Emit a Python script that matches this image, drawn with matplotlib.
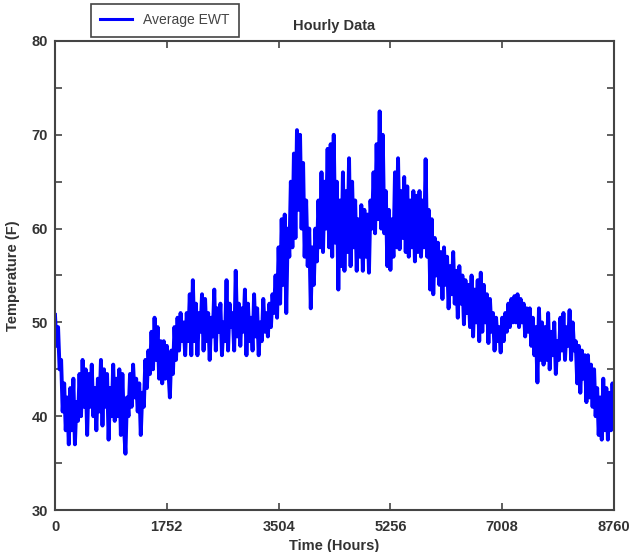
import numpy as np
import matplotlib.pyplot as plt

plt.rcParams['font.family'] = ['Liberation Sans', 'DejaVu Sans']

# daily readings of the hourly EWT trace (one value every 24 h)
ewt = [
    50.8, 47.5, 49.5, 45, 46, 40.5, 43.5, 38.5, 42, 37,
    43, 38.5, 44, 37, 41.5, 39.5, 44.5, 40, 46, 41,
    45, 38, 44.5, 41, 45.5, 40, 43, 38.5, 44, 40.5,
    46, 39, 45, 41, 44.5, 37.5, 43, 40, 45.5, 39.5,
    44, 40, 45, 38, 44.5, 39, 36, 42, 40, 44.5,
    41, 45.5, 42, 44, 40.5, 43.5, 38, 42.5, 41, 46,
    43, 47, 44.5, 49, 45, 50.5, 46, 49.5, 44, 48,
    43.5, 48, 44, 47.5, 45, 42, 47, 44.5, 49.5, 46,
    50.5, 47, 51, 48, 50, 46.5, 51, 48, 53, 46.5,
    54.5, 48, 52, 46.5, 51, 49, 53, 47, 52.5, 48,
    51, 46, 50.5, 48.5, 53.5, 47, 51.5, 49, 52, 46.5,
    50, 48, 54.5, 47, 52, 49.5, 51, 47, 55.5, 48.5,
    52, 47.5, 51.5, 49, 53.5, 46.5, 52, 48, 50.5, 47,
    53, 48.5, 51.5, 46.5, 50, 48, 52.5, 49, 51, 48.5,
    52, 49.5, 53, 51, 55, 50.5, 58, 52, 61, 54,
    61.5, 51, 60, 57, 65, 58, 68, 59, 70.5, 62,
    70, 60, 67, 57, 63, 56, 60, 51.5, 58, 54,
    60, 56.5, 63, 58, 66, 57.5, 65, 60, 68.5, 58,
    69, 57, 70, 58.5, 65, 53.5, 63, 56, 66, 55.5,
    64, 57.5, 67.5, 56, 65, 58, 63, 55.5, 61, 57,
    62.5, 55.5, 62, 57, 61.5, 55.3, 63, 60, 66, 59.5,
    69, 61, 72.5, 60, 70, 59.5, 64, 56, 62, 55.6,
    61, 57, 66, 58, 67.5, 57.8, 64, 59, 65.5, 57.5,
    64.5, 57, 63, 58, 64, 56.5, 63.5, 57.5, 64, 57,
    63, 58, 67.4, 57, 62, 53.5, 61, 53, 59, 55,
    58.5, 54, 57.5, 52.5, 58, 54, 57, 51.5, 56, 53,
    57.5, 52, 55.5, 50.5, 56, 52, 55, 49.8, 54.5, 51,
    54, 49.5, 55, 48.5, 53.5, 50, 54.5, 48, 55.3, 49,
    54, 50, 53, 47.8, 52.5, 49, 51, 47, 50.5, 48,
    49.5, 46.8, 50.5, 48, 51, 49, 52, 49.5, 52.5, 50,
    52.8, 50, 53, 49.5, 52.5, 50, 52, 48.5, 51.5, 49,
    51.5, 47.5, 50.5, 46.5, 49.5, 43.6, 51.5, 46, 50, 45.5,
    49.5, 46, 51, 45, 49, 46.5, 50, 44.5, 48, 46,
    50.5, 47, 51, 46, 49.5, 47.5, 51.3, 46, 50, 47,
    48, 43.5, 47.5, 42.5, 47, 44, 46.5, 41.5, 46.5, 42,
    45.5, 41, 45, 40, 43, 38, 42, 37.5, 44, 38.5,
    43, 37.5, 42.5, 38.5, 43.5, 40,
]
hours = np.arange(len(ewt)) * 24

x_ticks = [0, 1752, 3504, 5256, 7008, 8760]
y_ticks = [30, 35, 40, 45, 50, 55, 60, 65, 70, 75, 80]
y_labels = ['30', '', '40', '', '50', '', '60', '', '70', '', '80']

text_color = '#333333'

fig = plt.figure(figsize=(6.31, 5.52), dpi=100)
ax = fig.add_axes([55 / 631, 1 - 510 / 552, (614 - 55) / 631, (510 - 41) / 552])

ax.plot(hours, ewt, color='#0000ff', linewidth=2.8, label='Average EWT')

ax.set_xlim(0, 8760)
ax.set_ylim(30, 80)
ax.set_xticks(x_ticks)
ax.set_yticks(y_ticks)
ax.set_yticklabels(y_labels)
ax.tick_params(direction='in', length=5, width=1.2, top=True, right=True,
               colors='#444444', labelcolor=text_color, labelsize=10.5)
ax.tick_params(axis='x', pad=7)
ax.tick_params(axis='y', pad=5)
for lab in ax.get_xticklabels() + ax.get_yticklabels():
    lab.set_fontweight('bold')
for sp in ax.spines.values():
    sp.set_color('#444444')
    sp.set_linewidth(1.5)

ax.set_title('Hourly Data', fontsize=10.5, fontweight='bold', color=text_color, pad=8)
ax.set_xlabel('Time (Hours)', fontsize=10.5, fontweight='bold', color=text_color, labelpad=4)
ax.set_ylabel('Temperature (F)', fontsize=10.5, fontweight='bold', color=text_color, labelpad=8)

leg = ax.legend(loc='lower left', bbox_to_anchor=(0.064, 1.009), fancybox=False,
                framealpha=1, edgecolor='#444444', fontsize=10, borderaxespad=0,
                handlelength=2.3, borderpad=0.68)
leg.get_frame().set_linewidth(1.2)
leg.get_lines()[0].set_linewidth(2.2)
for t in leg.get_texts():
    t.set_color('#444444')

plt.savefig('out.png', dpi=100)
